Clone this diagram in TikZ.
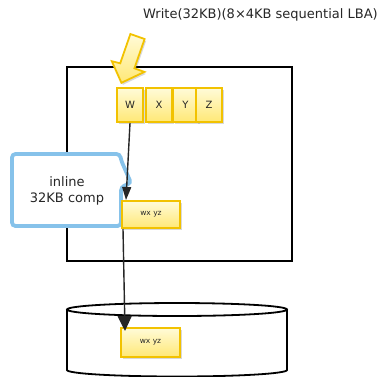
\documentclass[tikz,border=0pt]{standalone}
\usepackage{fontspec}
\setmainfont{DejaVu Sans}
\usetikzlibrary{shadows,arrows.meta,calc}
\definecolor{gold}{HTML}{F2C200}
\definecolor{ytop}{HTML}{FFFBD8}
\definecolor{ybot}{HTML}{FFE876}
\definecolor{cblue}{HTML}{86C2EA}
\definecolor{ink}{HTML}{262626}
\begin{document}
\begin{tikzpicture}[x=1pt,y=-1pt,
  shd/.style={drop shadow={shadow xshift=1.5pt,shadow yshift=-2pt,opacity=0.3}},
  blk/.style={draw=gold,line width=2pt,top color=ytop,bottom color=ybot,shd,
    inner sep=0pt,font=\fontsize{10}{11}\selectfont,text=ink},
  small/.style={font=\fontsize{7.5}{8}\selectfont},
  link/.style={draw=ink,line width=1.4pt}]
\useasboundingbox (0,0) rectangle (382,376);
% title
\node[font=\fontsize{13}{15}\selectfont,text=ink] (title) at (260.5,15) {Write(32KB)(8×4KB sequential LBA)};
% host box
\draw[line width=1.8pt] (67,67) rectangle (292,261);
% disk
\draw[line width=1.8pt,fill=white] (67,309.5) -- (67,370)
  arc[start angle=180,end angle=0,x radius=110,y radius=6.5] -- (287,309.5);
\draw[line width=1.8pt] (177,309.5) ellipse[x radius=110,y radius=6.5];
% callout
\draw[cblue,line width=3.8pt,fill=white,rounded corners=3.5pt]
  (12,154) -- (120,154) -- (121,160) -- (131,183) -- (121,187) -- (121,226) -- (12,226) -- cycle;
\node[align=center,font=\fontsize{13}{16}\selectfont,text=ink] (callout) at (67,191) {inline\\32KB comp};
% blocks
\node[blk,minimum width=26,minimum height=34] (w) at (130,105) {W};
\node[blk,minimum width=26,minimum height=34] (x) at (159,105) {X};
\node[blk,minimum width=25,minimum height=34] (y) at (185.5,105) {Y};
\node[blk,minimum width=26,minimum height=34] (z) at (209,105) {Z};
\node[blk,small,minimum width=58,minimum height=27] (mid) at (151,214.5) {wx yz};
\node[blk,small,minimum width=59,minimum height=29] (bot) at (150.5,342.5) {wx yz};
% connectors
\draw[link,-{Triangle[length=13pt,width=9pt]}] (w.south) -- ($(mid.north west)+(5,0)$);
\draw[link,-{Triangle[length=15pt,width=14pt]}] ($(mid.south west)+(2,0)$) -- ($(bot.north west)+(5,4)$);
% yellow arrow
\draw[gold,line width=1.8pt,top color=ytop,bottom color=ybot,shd,line join=miter]
  (130.4,34.0) -- (144.6,39.0) -- (134.4,68.3) -- (144.4,71.9) -- (121.4,82.8)
  -- (111.8,61.2) -- (120.2,63.3) -- cycle;
\end{tikzpicture}
\end{document}
